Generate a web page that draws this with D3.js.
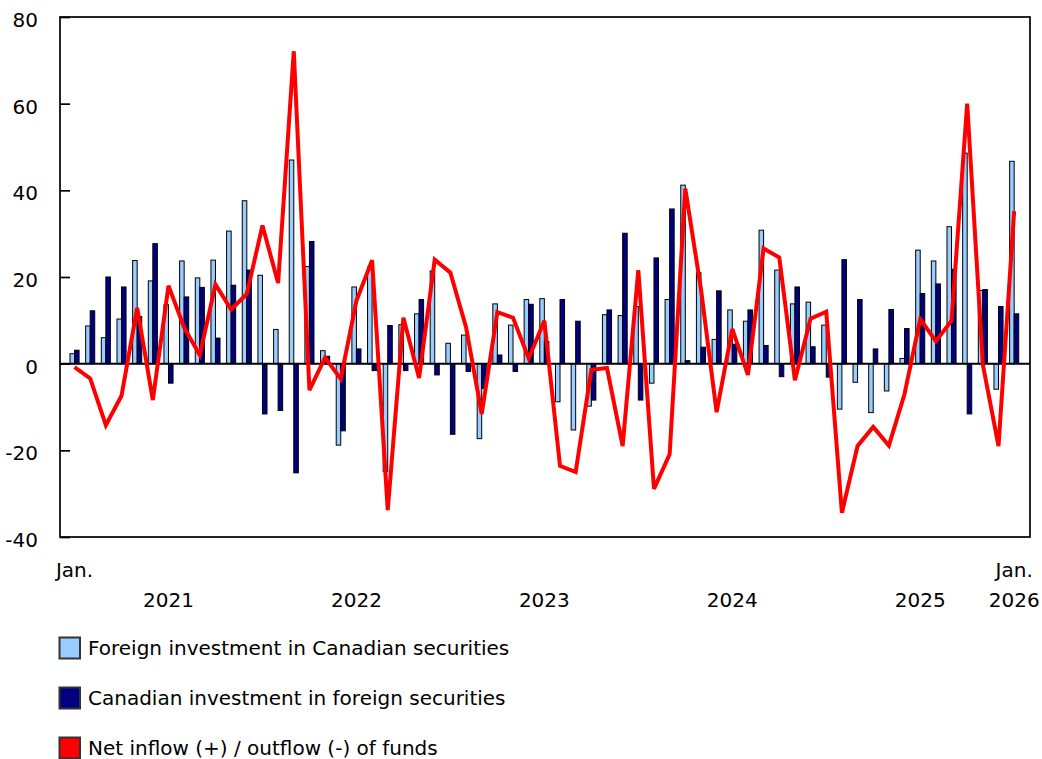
<!DOCTYPE html>
<html>
<head>
<meta charset="utf-8">
<script src="https://cdn.jsdelivr.net/npm/d3@7"></script>
<style>
  html, body { margin: 0; padding: 0; background: #fff; }
  svg text { font-family: "DejaVu Sans", Verdana, sans-serif; fill: #000; }
</style>
</head>
<body>
<svg id="chart" width="1042" height="759"></svg>
<script>
// ---- Data (billions of dollars, monthly, Jan. 2021 to Jan. 2026) ----
const months = d3.utcMonth.range(new Date(Date.UTC(2021, 0, 1)), new Date(Date.UTC(2026, 1, 1)));

const foreignInCanada = [
  2.3, 8.7, 6.0, 10.3, 23.8, 19.1, 13.6, 23.7, 19.8, 23.9, 30.6, 37.6,
  20.4, 7.9, 47.0, 22.4, 3.0, -18.8, 17.7, 22.3, -24.9, 9.0, 11.5, 21.4,
  4.7, 6.6, -17.3, 13.8, 8.9, 14.8, 15.0, -8.8, -15.3, -9.8, 11.3, 11.1,
  13.2, -4.5, 14.8, 41.2, 21.0, 5.6, 12.4, 9.8, 30.8, 21.6, 13.8, 14.2,
  8.9, -10.5, -4.3, -11.3, -6.3, 1.2, 26.2, 23.7, 31.6, 48.6, 16.9, -5.9,
  46.7
];
const canadianAbroad = [
  3.1, 12.2, 20.0, 17.7, 10.9, 27.7, -4.5, 15.4, 17.6, 5.9, 18.1, 21.6,
  -11.6, -10.8, -25.2, 28.2, 1.7, -15.5, 3.4, -1.6, 8.8, -1.6, 14.8, -2.6,
  -16.3, -1.8, -5.7, 2.0, -1.8, 13.7, 5.1, 14.8, 9.8, -8.4, 12.4, 30.1,
  -8.4, 24.4, 35.7, 0.7, 3.8, 16.8, 4.5, 12.4, 4.2, -3.0, 17.7, 3.9,
  -3.1, 24.0, 14.8, 3.4, 12.5, 8.1, 16.2, 18.4, 21.8, -11.6, 17.1, 13.2,
  11.5
];
const netFlow = [
  -0.8, -3.4, -14.2, -7.4, 12.9, -8.4, 18.0, 8.3, 2.0, 18.3, 12.5, 16.1,
  31.9, 18.6, 72.1, -6.1, 1.4, -3.5, 14.5, 23.9, -33.8, 10.6, -3.3, 24.0,
  21.0, 8.4, -11.6, 11.9, 10.6, 1.2, 9.9, -23.6, -25.0, -1.4, -1.0, -19.0,
  21.6, -28.9, -20.9, 40.4, 17.2, -11.2, 8.0, -2.6, 26.6, 24.5, -3.8, 10.4,
  12.0, -34.4, -19.0, -14.6, -18.9, -7.0, 10.3, 5.2, 9.9, 60.0, -0.2, -19.0,
  35.2
];
const yTicks = [-40, -20, 0, 20, 40, 60, 80];
const seriesNames = [
  "Foreign investment in Canadian securities",
  "Canadian investment in foreign securities",
  "Net inflow (+) / outflow (-) of funds"
];
const seriesColors = ["#99CCFF", "#000080", "#FF0000"];

// ---- Layout ----
const svg = d3.select("#chart");
const plot = { left: 60, top: 17, right: 1030, bottom: 537 };
const FS = 20;

const x = d3.scaleBand()
  .domain(months.map(d => +d))
  .range([66.7, 1022]);
const y = d3.scaleLinear().domain([-40, 80]).range([plot.bottom, plot.top]);

const bw = x.bandwidth();
const barW = bw * 0.29;
const cx = i => x(+months[i]) + bw / 2;

// bars
const g = svg.append("g");
g.selectAll("rect.foreign").data(foreignInCanada).join("rect")
  .attr("class", "foreign")
  .attr("x", (d, i) => cx(i) - barW)
  .attr("width", barW)
  .attr("y", d => y(Math.max(0, d)))
  .attr("height", d => Math.abs(y(d) - y(0)))
  .attr("fill", seriesColors[0])
  .attr("stroke", "#000").attr("stroke-width", 1);

g.selectAll("rect.cdn").data(canadianAbroad).join("rect")
  .attr("class", "cdn")
  .attr("x", (d, i) => cx(i))
  .attr("width", barW)
  .attr("y", d => y(Math.max(0, d)))
  .attr("height", d => Math.abs(y(d) - y(0)))
  .attr("fill", seriesColors[1])
  .attr("stroke", "#000").attr("stroke-width", 1);

// zero line
svg.append("line")
  .attr("x1", plot.left).attr("x2", plot.right)
  .attr("y1", y(0)).attr("y2", y(0))
  .attr("stroke", "#000").attr("stroke-width", 2);

// net line
svg.append("path")
  .datum(netFlow)
  .attr("fill", "none")
  .attr("stroke", seriesColors[2])
  .attr("stroke-width", 4)
  .attr("stroke-linejoin", "miter")
  .attr("stroke-miterlimit", 3)
  .attr("d", d3.line().x((d, i) => cx(i)).y(d => y(d)));

// frame
svg.append("rect")
  .attr("x", plot.left).attr("y", plot.top)
  .attr("width", plot.right - plot.left).attr("height", plot.bottom - plot.top)
  .attr("fill", "none").attr("stroke", "#000").attr("stroke-width", 1.7);

// y axis (ticks inward)
const yAxis = d3.axisLeft(y).tickValues(yTicks).tickSize(-10).tickPadding(22)
  .tickFormat(d => String(d));
const ya = svg.append("g").attr("transform", `translate(${plot.left},0)`).call(yAxis);
ya.select(".domain").remove();
ya.selectAll(".tick line").attr("stroke", "#000").attr("stroke-width", 1.7);
ya.selectAll(".tick text").attr("font-size", FS).attr("font-family", "DejaVu Sans").attr("dy", "0.47em");

// x labels
const xl = svg.append("g");
const jan = [0, 60];
xl.selectAll("text.jan").data(jan).join("text")
  .attr("x", i => cx(i)).attr("y", 577)
  .attr("text-anchor", "middle").attr("font-size", FS)
  .text("Jan.");
const yearIdx = [6, 18, 30, 42, 54, 60];
xl.selectAll("text.yr").data(yearIdx).join("text")
  .attr("x", i => cx(i)).attr("y", 607)
  .attr("text-anchor", "middle").attr("font-size", FS)
  .text(i => months[i].getUTCFullYear());

// legend
const lg = svg.append("g");
seriesNames.forEach((name, k) => {
  const yy = 648 + k * 50;
  lg.append("rect").attr("x", 59.5).attr("y", yy - 10.5).attr("width", 20.5).attr("height", 21)
    .attr("fill", seriesColors[k]).attr("stroke", "#333").attr("stroke-width", 2);
  lg.append("text").attr("x", 88).attr("y", yy + 7).attr("font-size", FS).text(name);
});
</script>
</body>
</html>
